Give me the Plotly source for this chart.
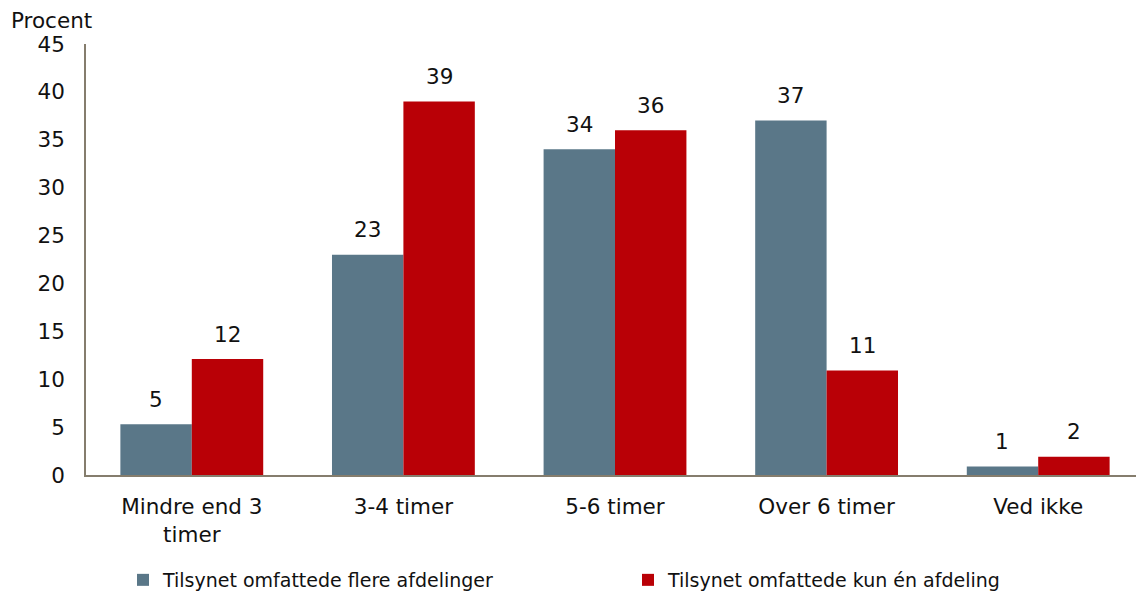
import plotly.graph_objects as go

categories = ["Mindre end 3<br>timer", "3-4 timer", "5-6 timer", "Over 6 timer", "Ved ikke"]
flere = [5.3, 23.0, 34.0, 37.0, 0.9]
kun_en = [12.1, 39.0, 36.0, 10.9, 1.9]
series_names = ["Tilsynet omfattede flere afdelinger", "Tilsynet omfattede kun én afdeling"]
y_ticks = [0, 5, 10, 15, 20, 25, 30, 35, 40, 45]

FONT = "DejaVu Sans, Verdana, sans-serif"
TXT = "#111111"
W, H = 1144, 592
ML, MT, MR, MB = 78, 36, 8, 125
BARGAP = 0.325
plot_w = W - ML - MR
plot_h = H - MT - MB
bar_px = plot_w / len(categories) * (1 - BARGAP) / 2

fig = go.Figure()
fig.add_trace(go.Bar(x=categories, y=flere, name=series_names[0], marker_color="#5a7788",
                     marker_line_width=0))
fig.add_trace(go.Bar(x=categories, y=kun_en, name=series_names[1], marker_color="#b90006",
                     marker_line_width=0))

annotations = []
for sign, vals in ((-1, flere), (1, kun_en)):
    for c, v in zip(categories, vals):
        annotations.append(dict(x=c, y=v, text=f"{v:.0f}", showarrow=False,
                                xshift=sign * bar_px / 2, yshift=25, yanchor="middle",
                                font=dict(size=21.5, color=TXT)))
annotations.append(dict(text="Procent", x=(1 - ML) / plot_w, xanchor="left",
                        y=1 + MT / plot_h, yanchor="top", yshift=2,
                        xref="paper", yref="paper", showarrow=False,
                        font=dict(size=21.5, color=TXT)))

fig.update_layout(
    width=W, height=H,
    margin=dict(l=ML, r=MR, t=MT, b=MB),
    barmode="group", bargap=BARGAP, bargroupgap=0,
    plot_bgcolor="white", paper_bgcolor="white",
    font=dict(family=FONT, size=21.5, color=TXT),
    showlegend=True,
    legend=dict(orientation="h", x=115 / W, xanchor="left", xref="container",
                y=1 - 572 / H, yanchor="middle", yref="container",
                font=dict(size=19, color=TXT), entrywidth=460, entrywidthmode="pixels",
                traceorder="normal", itemwidth=30),
    annotations=annotations,
)
fig.update_yaxes(range=[0, 45], tickvals=y_ticks, showgrid=False, zeroline=False,
                 showline=True, linecolor="#857d6d", linewidth=1.5, ticks="",
                 ticklabelstandoff=15, tickfont=dict(size=21.5, color=TXT), automargin=False)
fig.update_xaxes(showgrid=False, showline=True, linecolor="#857d6d", linewidth=1.5,
                 ticks="", ticklabelstandoff=11, tickfont=dict(size=21.5, color=TXT),
                 automargin=False)

fig.write_html("out.html")
